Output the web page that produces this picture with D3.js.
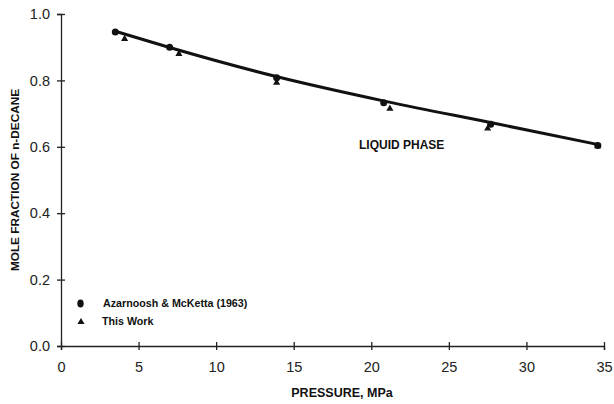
<!DOCTYPE html>
<html>
<head>
<meta charset="utf-8">
<script src="https://cdn.jsdelivr.net/npm/d3@7"></script>
<style>
  body { margin: 0; background: #fff; }
  svg { display: block; font-family: "Liberation Sans", Arial, sans-serif; }
  .axis path, .axis line { stroke: #222; stroke-width: 1.3; }
  .axis text { font-size: 14.5px; fill: #222; }
  .title { font-weight: bold; fill: #111; }
</style>
</head>
<body>
<svg width="614" height="404"></svg>
<script>
// Abmessungen
const width = 614;
const height = 404;
const margin = {left: 61, right: 10, top: 14, bottom: 58};

// Daten: Azarnoosh & McKetta (1963)
const litPressure = [3.5, 7.0, 13.9, 20.8, 27.7, 34.6];
const litFraction = [0.946, 0.900, 0.808, 0.733, 0.668, 0.604];

// Daten: This Work
const workPressure = [4.1, 7.6, 13.9, 21.2, 27.5, 34.6];
const workFraction = [0.925, 0.880, 0.793, 0.715, 0.655, 0.602];

// Glatte Kurve (Korrelation)
const curvePressure = [3.5, 7.0, 14.0, 21.0, 28.0, 34.8];
const curveFraction = [0.948, 0.899, 0.810, 0.736, 0.670, 0.605];

const xTicks = [0, 5, 10, 15, 20, 25, 30, 35];
const yTicks = [0.0, 0.2, 0.4, 0.6, 0.8, 1.0];

const svg = d3.select("svg");

const xScale = d3.scaleLinear().domain([0, 35]).range([margin.left, width - margin.right]);
const yScale = d3.scaleLinear().domain([0, 1]).range([height - margin.bottom, margin.top]);

// x-Achse
const xAxis = svg.append("g")
    .attr("class", "axis")
    .attr("transform", `translate(0,${yScale(0)})`)
    .call(d3.axisBottom(xScale).tickValues(xTicks).tickFormat(d3.format("d")).tickSizeOuter(0).tickSize(4).tickPadding(12));
xAxis.selectAll(".tick line").attr("y1", -4).attr("y2", 4);

// y-Achse
const yAxis = svg.append("g")
    .attr("class", "axis")
    .attr("transform", `translate(${xScale(0)},0)`)
    .call(d3.axisLeft(yScale).tickValues(yTicks).tickFormat(d3.format(".1f")).tickSizeOuter(0).tickSize(4).tickPadding(7));
yAxis.selectAll(".tick line").attr("x1", -4).attr("x2", 4);

// Achsentitel
svg.append("text")
    .attr("class", "title")
    .attr("font-size", 12.5)
    .attr("x", 342).attr("y", 397)
    .attr("text-anchor", "middle")
    .text("PRESSURE, MPa");

svg.append("text")
    .attr("class", "title")
    .attr("font-size", 11.8)
    .attr("transform", "translate(19,180) rotate(-90)")
    .attr("text-anchor", "middle")
    .text("MOLE FRACTION OF n-DECANE");

// Kurve
const curve = curvePressure.map((p, i) => [p, curveFraction[i]]);
svg.append("path")
    .datum(curve)
    .attr("fill", "none")
    .attr("stroke", "#111")
    .attr("stroke-width", 3)
    .attr("d", d3.line().x(d => xScale(d[0])).y(d => yScale(d[1])).curve(d3.curveMonotoneX));

// Dreiecke (This Work)
const tri = d3.symbol().type(d3.symbolTriangle).size(22);
svg.append("g")
    .selectAll("path")
    .data(workPressure.map((p, i) => [p, workFraction[i]]))
    .enter().append("path")
    .attr("d", tri)
    .attr("fill", "#111")
    .attr("transform", d => `translate(${xScale(d[0])},${yScale(d[1])})`);

// Kreise (Literatur)
svg.append("g")
    .selectAll("circle")
    .data(litPressure.map((p, i) => [p, litFraction[i]]))
    .enter().append("circle")
    .attr("r", 3.5)
    .attr("fill", "#111")
    .attr("cx", d => xScale(d[0]))
    .attr("cy", d => yScale(d[1]));

// Beschriftung
svg.append("text")
    .attr("class", "title")
    .attr("x", 359).attr("y", 149)
    .attr("font-size", 12)
    .text("LIQUID PHASE");

// Legende
const legend = svg.append("g");
legend.append("ellipse").attr("cx", 80.5).attr("cy", 303.5).attr("rx", 3.2).attr("ry", 4).attr("fill", "#111");
legend.append("path").attr("d", tri).attr("fill", "#111").attr("transform", "translate(81,322)");
legend.append("text").attr("class", "title").attr("x", 103).attr("y", 307)
    .attr("font-size", 10.7)
    .text("Azarnoosh & McKetta (1963)");
legend.append("text").attr("class", "title").attr("x", 102).attr("y", 325)
    .attr("font-size", 10.7)
    .text("This Work");
</script>
</body>
</html>
